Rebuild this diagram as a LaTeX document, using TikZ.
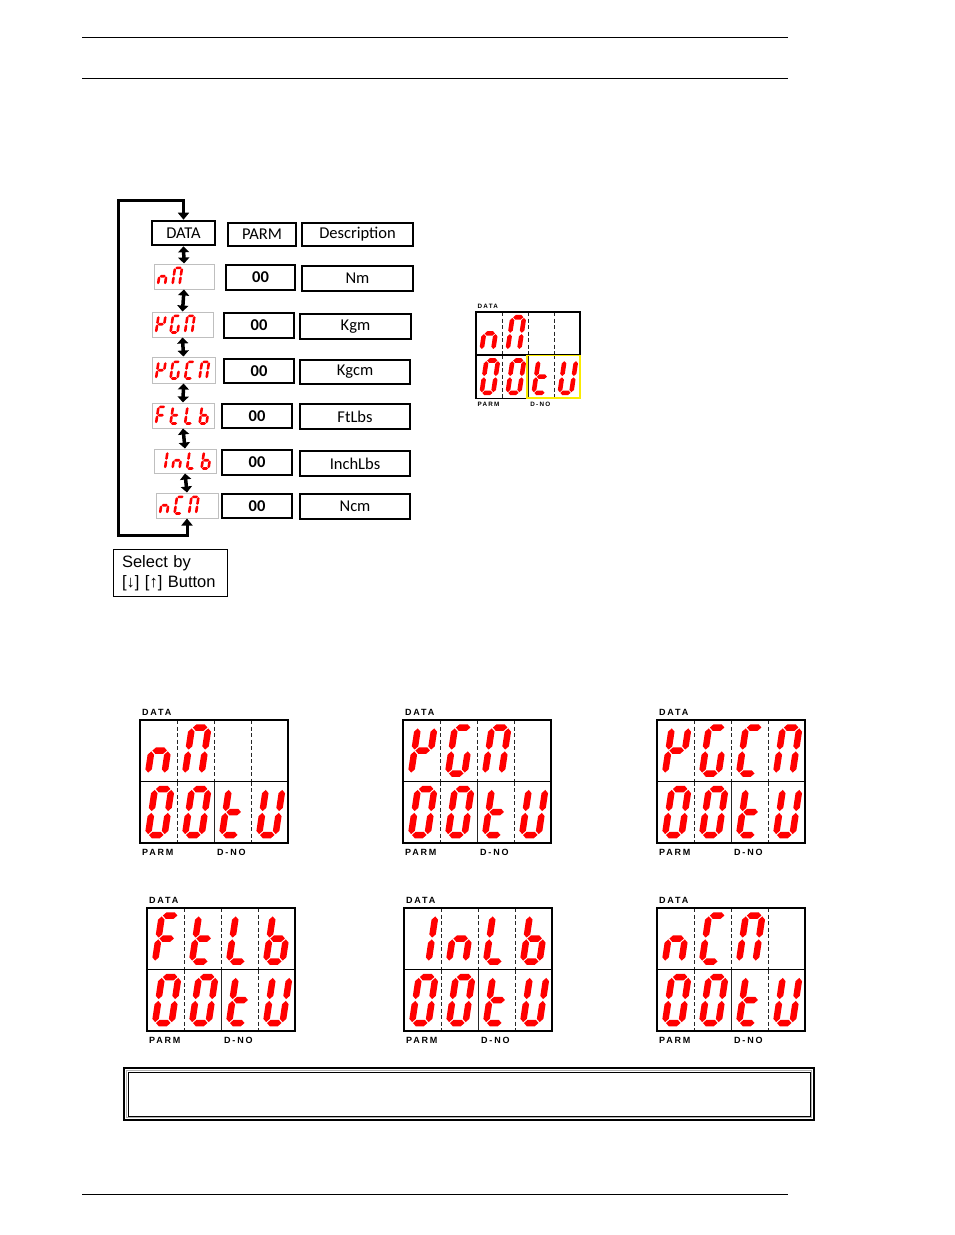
\documentclass[tikz,border=0pt]{standalone}
\usepackage{fontspec}
\setmainfont{Carlito}
\newfontfamily\arialf{Liberation Sans}
\newfontfamily\lblf[LetterSpace=20]{Liberation Sans}
\usetikzlibrary{arrows.meta}
\definecolor{segred}{RGB}{255,0,0}
\definecolor{ybox}{RGB}{250,235,0}

% seven segment paths (unit digit: width 1, height 2)
\def\sga{(0.06,2) -- (0.06+\sgtv,2+\sgth) -- (0.94-\sgtv,2+\sgth) -- (0.94,2) -- (0.94-\sgtv,2-\sgth) -- (0.06+\sgtv,2-\sgth) -- cycle}
\def\sgg{(0.06,1) -- (0.06+\sgtv,1+\sgth) -- (0.94-\sgtv,1+\sgth) -- (0.94,1) -- (0.94-\sgtv,1-\sgth) -- (0.06+\sgtv,1-\sgth) -- cycle}
\def\sgd{(0.06,0) -- (0.06+\sgtv,\sgth) -- (0.94-\sgtv,\sgth) -- (0.94,0) -- (0.94-\sgtv,-\sgth) -- (0.06+\sgtv,-\sgth) -- cycle}
\def\sgf{(0,1.04) -- (\sgtv,1.04+\sgth) -- (\sgtv,1.96-\sgth) -- (0,1.96) -- (-\sgtv,1.96-\sgth) -- (-\sgtv,1.04+\sgth) -- cycle}
\def\sge{(0,0.04) -- (\sgtv,0.04+\sgth) -- (\sgtv,0.96-\sgth) -- (0,0.96) -- (-\sgtv,0.96-\sgth) -- (-\sgtv,0.04+\sgth) -- cycle}
\def\sgb{(1,1.04) -- (1+\sgtv,1.04+\sgth) -- (1+\sgtv,1.96-\sgth) -- (1,1.96) -- (1-\sgtv,1.96-\sgth) -- (1-\sgtv,1.04+\sgth) -- cycle}
\def\sgc{(1,0.04) -- (1+\sgtv,0.04+\sgth) -- (1+\sgtv,0.96-\sgth) -- (1,0.96) -- (1-\sgtv,0.96-\sgth) -- (1-\sgtv,0.04+\sgth) -- cycle}

% characters
\def\cN{e,g,c}
\def\cM{a,b,c,e,f}
\def\cZ{a,b,c,d,e,f}
\def\cT{f,e,d,g}
\def\cU{b,c,d,e,f}
\def\cK{f,g,b,e}
\def\cG{a,f,e,d,c}
\def\cC{a,f,e,d}
\def\cF{a,f,g,e}
\def\cL{f,e,d}
\def\cB{f,e,d,c,g}
\def\cI{b,c}

% #1,#2 bottom-left of digit; #3 sx; #4 sy; #5 stroke px; #6 segments
\newcommand\ssd[6]{%
  \begin{scope}[shift={(#1,#2)},x={(#3*1pt,0pt)},y={(0.15*#4*1pt,#4*1pt)}]
    \pgfmathsetmacro\sgth{#5/2/#4}\pgfmathsetmacro\sgtv{#5/2/#3}%
    \edef\sglist{#6}%
    \foreach \s in \sglist {\expandafter\let\expandafter\cursp\csname sg\s\endcsname \fill[segred] \cursp;}
  \end{scope}}

% character in a big display: L, T, scale, column, row(1/2), segs
\newcommand\dchar[6]{%
  \pgfmathsetmacro\dgx{#1+(#4*37+8)*#3}%
  \pgfmathsetmacro\dgy{#2+(#5*61.5-8)*#3}%
  \pgfmathsetmacro\dgsx{16.5*#3}\pgfmathsetmacro\dgsy{23*#3}\pgfmathsetmacro\dgpp{6.5*#3}%
  \ssd{\dgx}{\dgy}{\dgsx}{\dgsy}{\dgpp}{#6}}

\newcommand\dzero[3]{%
  \dchar{#1}{#2}{#3}{0}{2}{\cZ}\dchar{#1}{#2}{#3}{1}{2}{\cZ}%
  \dchar{#1}{#2}{#3}{2}{2}{\cT}\dchar{#1}{#2}{#3}{3}{2}{\cU}}

% frame of a display: name, L, T, scale, font size
\newcommand\dframe[5]{%
  \begin{scope}[shift={(#2,#3)},scale=#4]
    \draw[dsh] (37,0) -- (37,61.5) (74,0) -- (74,61.5) (111,0) -- (111,61.5)
               (37,61.5) -- (37,123) (111,61.5) -- (111,123);
    \draw[dthin] (74,61.5) -- (74,123);
    \draw[dfr] (0,0) rectangle (148,123) (0,61.5) -- (148,61.5);
    \node[lbl,font=\lblf\bfseries\fontsize{#5}{#5}\selectfont] (#1-data) at (2,-8) {DATA};
    \node[lbl,font=\lblf\bfseries\fontsize{#5}{#5}\selectfont] (#1-parm) at (2,132) {PARM};
    \node[lbl,font=\lblf\bfseries\fontsize{#5}{#5}\selectfont] (#1-dno) at (77,132) {D-NO};
  \end{scope}}

% mini character in list display: L, bottom, index, segs
\newcommand\minich[4]{%
  \pgfmathsetmacro\mgx{#1+4+#3*14.5}\pgfmathsetmacro\mgy{#2-4.5}%
  \ssd{\mgx}{\mgy}{7}{8.3}{2.6}{#4}}

\begin{document}
\begin{tikzpicture}[x=1pt,y=-1pt,
  rule/.style={line width=1.3pt},
  tbox/.style={draw,line width=2.6pt,inner sep=0pt,font=\fontsize{16.5}{16.5}\selectfont},
  pbox/.style={tbox,font=\bfseries\fontsize{16.5}{16.5}\selectfont},
  dbox/.style={draw=gray!50,line width=1pt,fill=white,inner sep=0pt},
  dar/.style={line width=3.5pt,{Triangle[width=11pt,length=6pt]}-{Triangle[width=11pt,length=6pt]}},
  loopline/.style={line width=3pt,{Triangle[width=11pt,length=7pt]}-{Triangle[width=11pt,length=7pt]}},
  dsh/.style={line width=0.9pt,dash pattern=on 4pt off 2.5pt,black!85},
  dthin/.style={line width=0.9pt,black!85},
  dfr/.style={line width=1.8pt},
  lbl/.style={anchor=west,inner sep=0pt}]
\fill[white] (0,0) rectangle (954,1235);
\useasboundingbox (0,0) rectangle (954,1235);

% page rules
\coordinate (r1a) at (82,37.5); \coordinate (r1b) at (788,37.5);
\coordinate (r2a) at (82,78.5); \coordinate (r2b) at (788,78.5);
\coordinate (r3a) at (82,1194.5); \coordinate (r3b) at (788,1194.5);
\draw[rule] (r1a) -- (r1b); \draw[rule] (r2a) -- (r2b); \draw[rule] (r3a) -- (r3b);

% header row
\node[tbox,minimum width=63pt,minimum height=24pt] (data) at (183.5,233) {DATA};
\node[tbox,minimum width=68pt,minimum height=23pt] (parm) at (262,234.5) {PARM};
\node[tbox,minimum width=111pt,minimum height=23pt] (desc) at (357.5,234.5) {Description};

% rows
\node[dbox,minimum width=60pt,minimum height=25pt] (d1) at (184,276.5) {};
\node[pbox,minimum width=69pt,minimum height=25pt] (p1) at (260.5,277.5) {00};
\node[tbox,minimum width=111pt,minimum height=25pt] (n1) at (357.5,278.5) {Nm};

\node[dbox,minimum width=61pt,minimum height=25pt] (d2) at (182.5,324.5) {};
\node[pbox,minimum width=70pt,minimum height=25pt] (p2) at (259,325.5) {00};
\node[tbox,minimum width=111pt,minimum height=25pt] (n2) at (355.5,326.5) {Kgm};

\node[dbox,minimum width=63pt,minimum height=26pt] (d3) at (183.5,370) {};
\node[pbox,minimum width=70pt,minimum height=24pt] (p3) at (259,371) {00};
\node[tbox,minimum width=110pt,minimum height=24pt] (n3) at (355,372) {Kgcm};

\node[dbox,minimum width=62pt,minimum height=25pt] (d4) at (183,415.5) {};
\node[pbox,minimum width=70pt,minimum height=24pt] (p4) at (257,416) {00};
\node[tbox,minimum width=110pt,minimum height=25pt] (n4) at (355,416.5) {FtLbs};

\node[dbox,minimum width=62pt,minimum height=24pt] (d5) at (185,461) {};
\node[pbox,minimum width=70pt,minimum height=25pt] (p5) at (257,462.5) {00};
\node[tbox,minimum width=110pt,minimum height=25pt] (n5) at (355,463.5) {InchLbs};

\node[dbox,minimum width=62pt,minimum height=25pt] (d6) at (187,505.5) {};
\node[pbox,minimum width=70pt,minimum height=24pt] (p6) at (257,506) {00};
\node[tbox,minimum width=110pt,minimum height=25pt] (n6) at (355,506.5) {Ncm};

% mini display characters
\minich{154}{289}{0}{\cN}\minich{154}{289}{1}{\cM}
\minich{152}{337}{0}{\cK}\minich{152}{337}{1}{\cG}\minich{152}{337}{2}{\cM}
\minich{152}{383}{0}{\cK}\minich{152}{383}{1}{\cG}\minich{152}{383}{2}{\cC}\minich{152}{383}{3}{\cM}
\minich{152}{428}{0}{\cF}\minich{152}{428}{1}{\cT}\minich{152}{428}{2}{\cL}\minich{152}{428}{3}{\cB}
\minich{154}{473}{0}{\cI}\minich{154}{473}{1}{\cN}\minich{154}{473}{2}{\cL}\minich{154}{473}{3}{\cB}
\minich{156}{518}{0}{\cN}\minich{156}{518}{1}{\cC}\minich{156}{518}{2}{\cM}

% double arrows
\draw[dar] (data.south) -- (d1.north);
\draw[dar] (d1.south) -- (d2.north);
\draw[dar] (d2.south) -- (d3.north);
\draw[dar] (d3.south) -- (d4.north);
\draw[dar] (d4.south) -- (d5.north);
\draw[dar] (d5.south) -- (d6.north);

% loop
\coordinate (lb) at (118,535);
\coordinate (lt) at (118,200);
\draw[loopline] (d6.south) |- (lb) -- (lt) -| (data.north);

% select box
\node[draw,line width=1pt,anchor=north west,minimum width=114pt,minimum height=47pt,
      text width=97pt,align=left,inner xsep=8.5pt,inner ysep=4pt,
      font=\arialf\fontsize{16.5}{19.5}\selectfont] (sel) at (113,549) {Select by\\{}[↓] [↑] Button};

% small display
\dframe{sm}{476}{312}{0.703}{6.3}
\dchar{476}{312}{0.703}{0}{1}{\cN}\dchar{476}{312}{0.703}{1}{1}{\cM}
\dzero{476}{312}{0.703}
\draw[ybox,line width=1.6pt] (527,355.5) rectangle (580,398);

% big displays
\dframe{b1}{140}{720}{1}{9}
\dchar{140}{720}{1}{0}{1}{\cN}\dchar{140}{720}{1}{1}{1}{\cM}
\dzero{140}{720}{1}

\dframe{b2}{403}{720}{1}{9}
\dchar{403}{720}{1}{0}{1}{\cK}\dchar{403}{720}{1}{1}{1}{\cG}\dchar{403}{720}{1}{2}{1}{\cM}
\dzero{403}{720}{1}

\dframe{b3}{657}{720}{1}{9}
\dchar{657}{720}{1}{0}{1}{\cK}\dchar{657}{720}{1}{1}{1}{\cG}\dchar{657}{720}{1}{2}{1}{\cC}\dchar{657}{720}{1}{3}{1}{\cM}
\dzero{657}{720}{1}

\dframe{b4}{147}{908}{1}{9}
\dchar{147}{908}{1}{0}{1}{\cF}\dchar{147}{908}{1}{1}{1}{\cT}\dchar{147}{908}{1}{2}{1}{\cL}\dchar{147}{908}{1}{3}{1}{\cB}
\dzero{147}{908}{1}

\dframe{b5}{404}{908}{1}{9}
\dchar{404}{908}{1}{0}{1}{\cI}\dchar{404}{908}{1}{1}{1}{\cN}\dchar{404}{908}{1}{2}{1}{\cL}\dchar{404}{908}{1}{3}{1}{\cB}
\dzero{404}{908}{1}

\dframe{b6}{657}{908}{1}{9}
\dchar{657}{908}{1}{0}{1}{\cN}\dchar{657}{908}{1}{1}{1}{\cC}\dchar{657}{908}{1}{2}{1}{\cM}
\dzero{657}{908}{1}

% bottom note box
\draw[line width=2.2pt] (124,1068) rectangle (814,1120);
\draw[gray!60,line width=1.2pt] (126.5,1070.5) rectangle (811.5,1117.5);
\draw[line width=1pt] (128,1072) rectangle (810,1116);
\end{tikzpicture}
\end{document}
